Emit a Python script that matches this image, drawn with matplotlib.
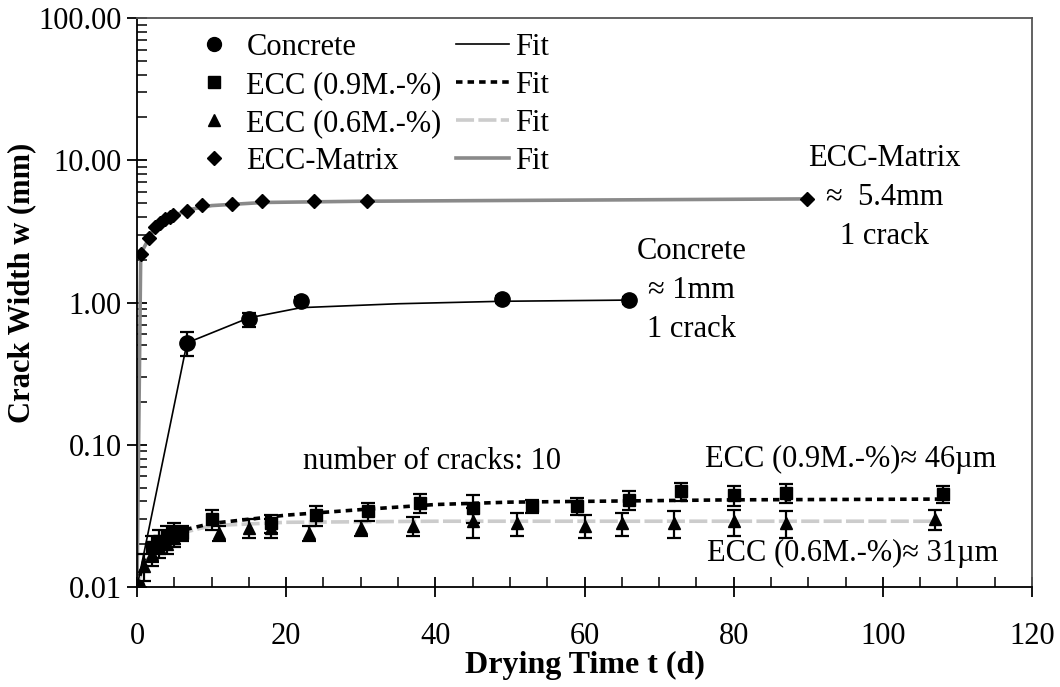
import matplotlib
matplotlib.use('Agg')
import matplotlib.pyplot as plt
from matplotlib.lines import Line2D
from matplotlib.ticker import MultipleLocator, FixedLocator, FormatStrFormatter, LogLocator, NullFormatter

plt.rcParams['font.family'] = ['Liberation Serif', 'DejaVu Serif']

# Concrete
conc_t = [0, 6.7, 15, 22, 49, 66]
conc_w = [0.010, 0.52, 0.76, 1.03, 1.05, 1.04]
conc_e = [0, 0.10, 0.09, 0.06, 0.06, 0.06]
conc_fit_t = [0, 6.7, 15, 22, 35, 49, 66]
conc_fit_w = [0.010, 0.52, 0.78, 0.92, 0.98, 1.02, 1.04]

# ECC 0.9 M.-%
e9_t = [0, 2, 3, 4, 5, 6, 10, 18, 24, 31, 38, 45, 53, 59, 66, 73, 80, 87, 108]
e9_w = [0.010, 0.019, 0.021, 0.023, 0.024, 0.024, 0.030, 0.028, 0.032, 0.034, 0.039,
        0.036, 0.037, 0.037, 0.041, 0.047, 0.044, 0.046, 0.045]
e9_e = [0, 0.004, 0.004, 0.004, 0.004, 0.003, 0.005, 0.004, 0.005, 0.005, 0.006,
        0.008, 0.004, 0.005, 0.006, 0.007, 0.007, 0.007, 0.006]
e9_fit_t = [0, 1, 3, 6, 10, 20, 30, 40, 50, 60, 80, 108]
e9_fit_w = [0.010, 0.016, 0.021, 0.025, 0.028, 0.032, 0.035, 0.038, 0.0395, 0.040, 0.041, 0.0415]

# ECC 0.6 M.-%
e6_t = [0, 1, 2, 3, 4, 5, 11, 15, 18, 23, 30, 37, 45, 51, 60, 65, 72, 80, 87, 107]
e6_w = [0.010, 0.014, 0.017, 0.019, 0.020, 0.022, 0.024, 0.026, 0.026, 0.024, 0.026,
        0.027, 0.029, 0.028, 0.027, 0.028, 0.028, 0.029, 0.028, 0.030]
e6_e = [0, 0.003, 0.003, 0.003, 0.003, 0.003, 0.003, 0.004, 0.004, 0.003, 0.003,
        0.004, 0.007, 0.005, 0.005, 0.005, 0.006, 0.006, 0.006, 0.005]
e6_fit_t = [0, 1, 3, 6, 10, 20, 40, 107]
e6_fit_w = [0.010, 0.015, 0.019, 0.024, 0.027, 0.0285, 0.029, 0.029]

# ECC matrix
mx_t = [0, 0.5, 1.6, 2.4, 3.1, 3.75, 4.4, 4.8, 6.7, 8.7, 12.7, 16.8, 23.7, 30.8, 89.8]
mx_w = [0.010, 2.2, 2.85, 3.4, 3.6, 3.85, 4.0, 4.1, 4.4, 4.85, 4.9, 5.15, 5.15, 5.15, 5.35]
mx_fit_t = [0, 0.5, 2, 4, 7, 10, 17, 30, 60, 90]
mx_fit_w = [0.010, 2.2, 3.1, 3.9, 4.5, 4.8, 5.05, 5.15, 5.25, 5.35]

fig = plt.figure(figsize=(10.6, 6.87), dpi=100)
ax = fig.add_axes([137/1060, 1-587/687, (1032-137)/1060, (587-18)/687])

# fit lines
ax.plot(mx_fit_t, mx_fit_w, color='#8a8a8a', lw=2.6, zorder=2)
ax.plot(e6_fit_t, e6_fit_w, color='#cccccc', lw=2.6, dashes=(5, 1.2), zorder=2)
ax.plot(e9_fit_t, e9_fit_w, color='black', lw=2.6, dashes=(1.8, 1.4), zorder=2)
ax.plot(conc_fit_t, conc_fit_w, color='black', lw=1.2, zorder=2)

# data
ekw = dict(ecolor='black', elinewidth=1.6, capsize=5, capthick=1.6, ls='none', zorder=3)
ax.errorbar(conc_t, conc_w, yerr=conc_e, marker='o', ms=11, mfc='black', mec='black', **ekw)
ax.errorbar(e9_t, e9_w, yerr=e9_e, marker='s', ms=9, mfc='black', mec='black', **ekw)
ax.errorbar(e6_t, e6_w, yerr=e6_e, marker='^', ms=8, mfc='black', mec='black', **ekw)
ax.plot(mx_t, mx_w, marker='D', ms=7.5, color='black', ls='none', zorder=4)

ax.set_yscale('log')
ax.set_xlim(0, 120)
ax.set_ylim(0.01, 100)
ax.xaxis.set_major_locator(MultipleLocator(20))
ax.xaxis.set_minor_locator(MultipleLocator(5))
ax.yaxis.set_major_locator(FixedLocator([0.01, 0.1, 1, 10, 100]))
ax.yaxis.set_major_formatter(FormatStrFormatter('%.2f'))
ax.yaxis.set_minor_locator(LogLocator(base=10, subs=range(2, 10)))
ax.yaxis.set_minor_formatter(NullFormatter())
ax.tick_params(which='major', direction='inout', length=14, width=1.3, labelsize=22, pad=4)
ax.tick_params(which='minor', direction='in', length=7, width=1.1)
ax.tick_params(axis='x', which='major', pad=18)
for s in ax.spines.values():
    s.set_linewidth(1.3)
ax.spines['top'].set_color('#555555')
ax.spines['right'].set_color('#555555')

ax.set_xlabel('Drying Time t (d)', fontsize=23, fontweight='bold', labelpad=0)
ax.set_ylabel('Crack Width w (mm)', fontsize=22, fontweight='bold')
ax.yaxis.set_label_coords(-0.113, 0.535)

# legend
h_data = [Line2D([], [], marker='o', ms=10, color='black', ls='none'),
          Line2D([], [], marker='s', ms=9, color='black', ls='none'),
          Line2D([], [], marker='^', ms=8, color='black', ls='none'),
          Line2D([], [], marker='D', ms=7.5, color='black', ls='none')]
h_fit = [Line2D([], [], color='black', lw=1.2),
         Line2D([], [], color='black', lw=2.6, dashes=(1.8, 1.4)),
         Line2D([], [], color='#cccccc', lw=2.6, dashes=(5, 1.2)),
         Line2D([], [], color='#8a8a8a', lw=2.6)]
labels = ['Concrete', 'ECC (0.9M.-%)', 'ECC (0.6M.-%)', 'ECC-Matrix', 'Fit', 'Fit', 'Fit', 'Fit']
ax.legend(h_data + h_fit, labels, ncol=2, frameon=False, fontsize=22,
          loc='upper left', bbox_to_anchor=(0.025, 1.022), handlelength=1.75,
          handletextpad=0.2, columnspacing=0.45, labelspacing=0.295)

# annotations
txt = dict(fontsize=22, ha='center', va='center', linespacing=1.45)
ax.text(100.2, 5.5, 'ECC-Matrix\n\u2248  5.4mm\n1 crack', **txt)
ax.text(74.4, 1.22, 'Concrete\n\u2248 1mm\n1 crack', **txt)
ax.text(39.5, 0.076, 'number of cracks: 10', **txt)
ax.text(95.7, 0.079, 'ECC (0.9M.-%)\u2248 46\u00b5m', **txt)
ax.text(96.0, 0.0173, 'ECC (0.6M.-%)\u2248 31\u00b5m', **txt)

fig.savefig('out.png', dpi=100)
